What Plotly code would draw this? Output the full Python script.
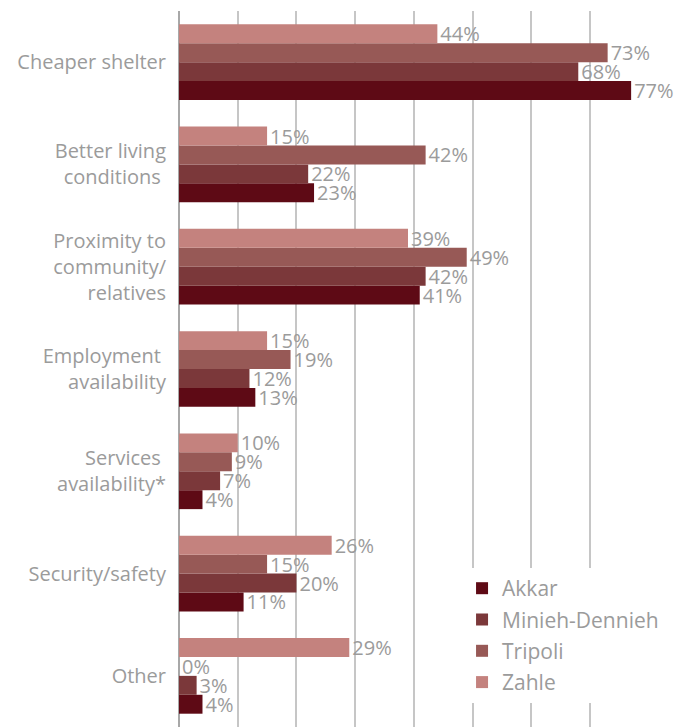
import plotly.graph_objects as go

categories = [
    "Cheaper shelter",
    "Better living<br>conditions\u00a0",
    "Proximity to<br>community/<br>relatives",
    "Employment\u00a0<br>availability",
    "Services\u00a0<br>availability*",
    "Security/safety",
    "Other",
]
series_names = ["Akkar", "Minieh-Dennieh", "Tripoli", "Zahle"]
akkar = [77, 23, 41, 13, 4, 11, 4]
minieh = [68, 22, 42, 12, 7, 20, 3]
tripoli = [73, 42, 49, 19, 9, 15, 0]
zahle = [44, 15, 39, 15, 10, 26, 29]
colors = ["#5E0A15", "#7B383A", "#975956", "#C4827E"]

values = [akkar, minieh, tripoli, zahle]
grey = "#9B9B9B"
font_family = "Open Sans"

fig = go.Figure()
for name, vals, col in zip(series_names, values, colors):
    fig.add_trace(go.Bar(
        y=categories, x=vals, name=name, orientation="h",
        marker=dict(color=col, line=dict(width=0)),
        text=[f"{v}%" for v in vals], textposition="outside",
        textfont=dict(color=grey, size=20, family=font_family),
        constraintext="none", cliponaxis=False, legendgroup=name,
        hoverinfo="skip",
    ))

fig.update_layout(
    width=674, height=727,
    margin=dict(l=179, r=37, t=11, b=0, autoexpand=False),
    paper_bgcolor="white", plot_bgcolor="white",
    barmode="group", bargap=0.26, bargroupgap=0,
    font=dict(family=font_family, color=grey, size=20),
    xaxis=dict(range=[0, 78], dtick=10, showgrid=True, gridcolor="#C6C6C6",
               gridwidth=1.5, showticklabels=False, zeroline=True,
               zerolinecolor="#A8A8A8", zerolinewidth=2, fixedrange=True,
               automargin=False),
    yaxis=dict(categoryorder="array", categoryarray=list(reversed(categories)),
               showgrid=False, ticklabelstandoff=12, automargin=False,
               fixedrange=True,
               tickfont=dict(size=20, color=grey, family=font_family)),
    legend=dict(x=0.618, y=0.222, xanchor="left", yanchor="top",
                bgcolor="white", traceorder="grouped",
                tracegroupgap=1, font=dict(size=21, color=grey, family=font_family)),
    showlegend=True,
)

fig.write_html("out.html", config={"displayModeBar": False},
               post_script="document.body.style.margin='0';")
